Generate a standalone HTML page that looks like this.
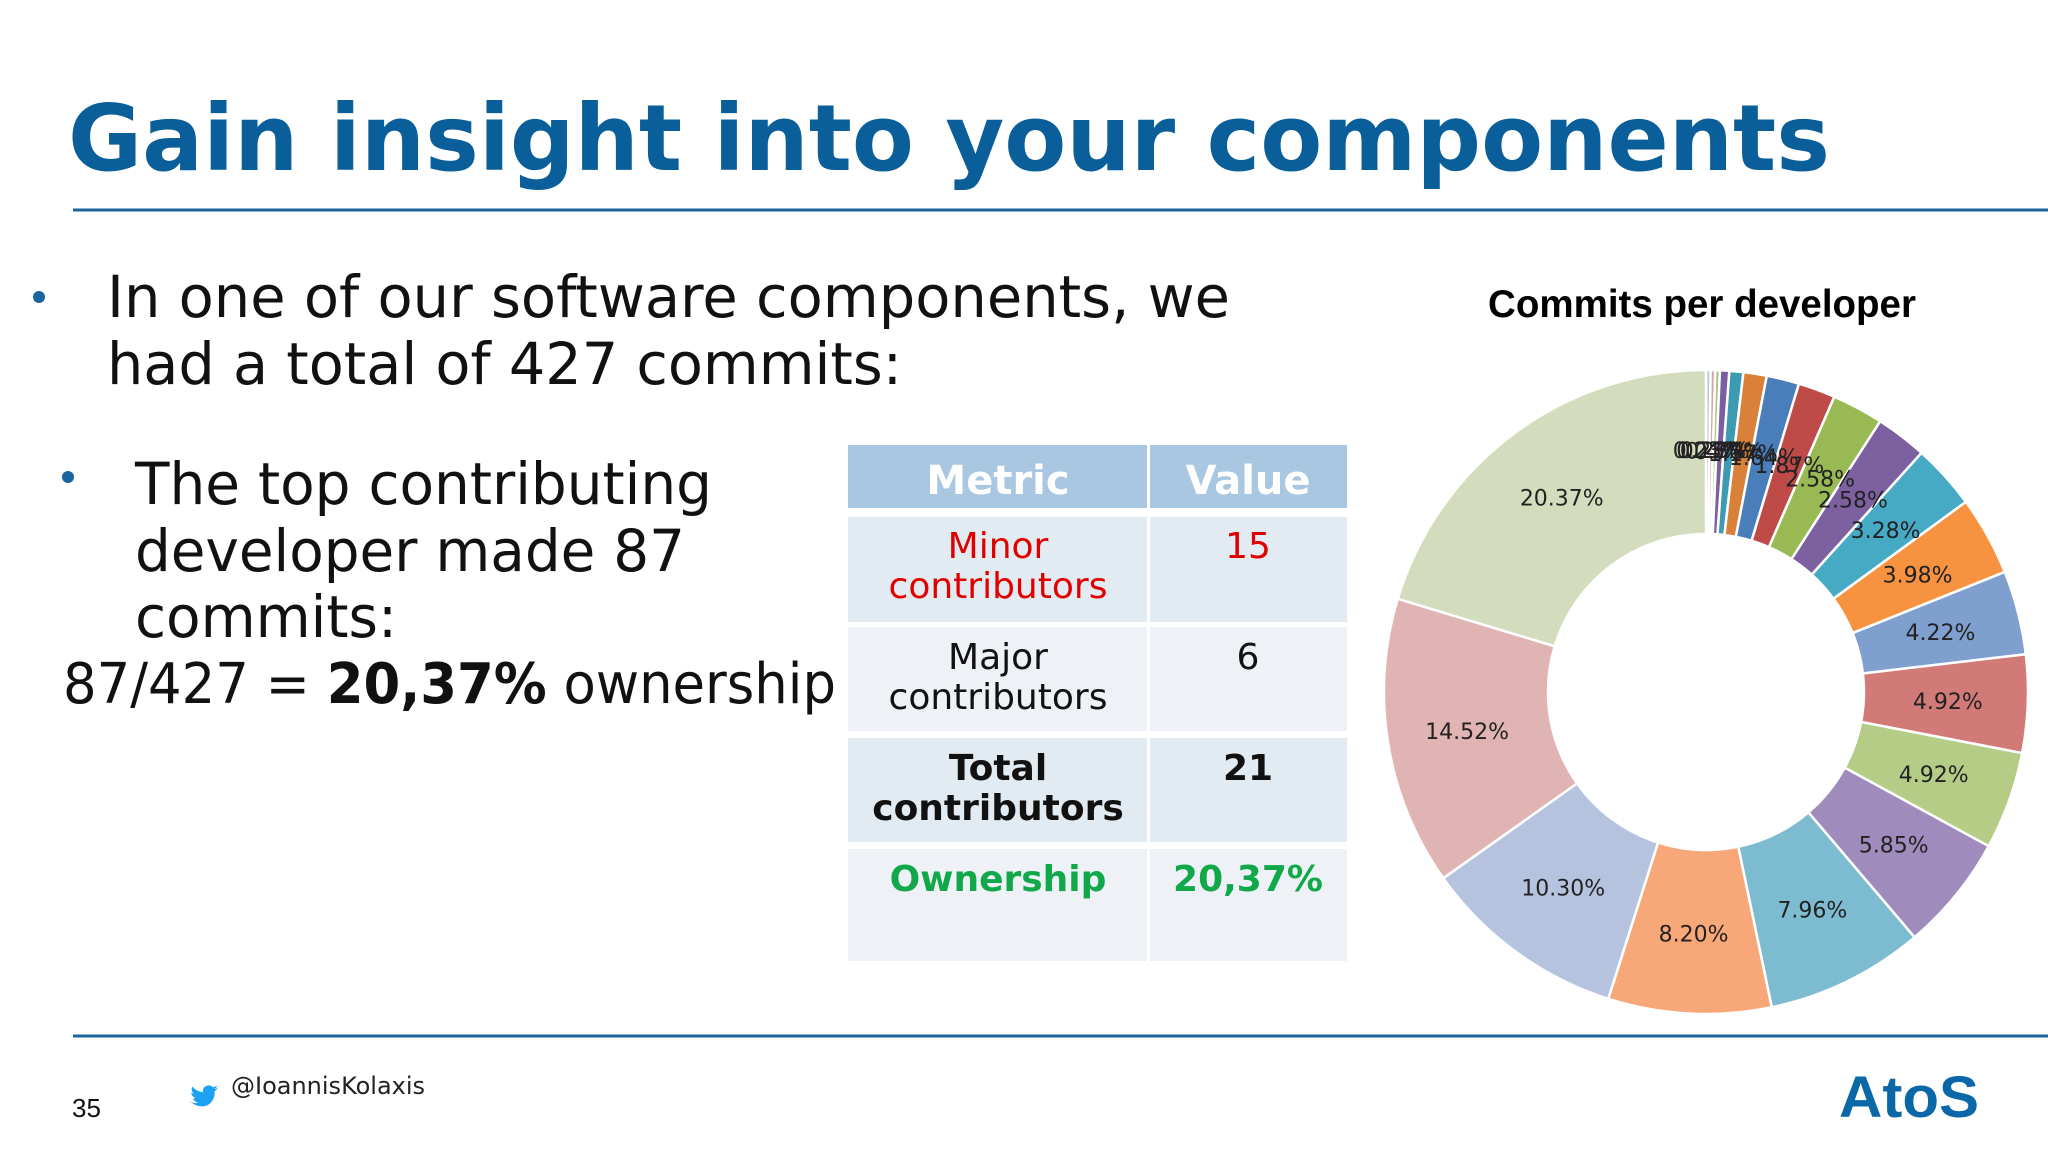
<!DOCTYPE html>
<html><head><meta charset="utf-8"><style>
html,body{margin:0;padding:0;background:#fff;}
svg{display:block;font-family:"DejaVu Sans","Liberation Sans",sans-serif;}
</style></head><body>
<svg id="s" width="2048" height="1152" viewBox="0 0 2048 1152">
<text x="68" y="170" font-size="92" font-weight="bold" fill="#0a5e99" textLength="1762" lengthAdjust="spacingAndGlyphs">Gain insight into your components</text>
<line x1="73" y1="210" x2="2048" y2="210" stroke="#1a64a0" stroke-width="3"/>
<circle cx="39" cy="297" r="6" fill="#1a64a0"/>
<text x="107" y="317" font-size="58" fill="#111" textLength="1123" lengthAdjust="spacingAndGlyphs">In one of our software components, we</text>
<text x="107" y="384" font-size="58" fill="#111" textLength="795" lengthAdjust="spacingAndGlyphs">had a total of 427 commits:</text>
<circle cx="68" cy="477" r="6" fill="#1a64a0"/>
<text x="135" y="504" font-size="58" fill="#111" textLength="577" lengthAdjust="spacingAndGlyphs">The top contributing</text>
<text x="135" y="571" font-size="58" fill="#111" textLength="550" lengthAdjust="spacingAndGlyphs">developer made 87</text>
<text x="135" y="637" font-size="58" fill="#111" textLength="262" lengthAdjust="spacingAndGlyphs">commits:</text>
<text x="63" y="703" font-size="56" fill="#111" textLength="773" lengthAdjust="spacingAndGlyphs">87/427 = <tspan font-weight="bold">20,37%</tspan> ownership</text>

<g font-size="36" text-anchor="middle">
<rect x="848" y="445" width="299" height="63" fill="#a9c7e0"/>
<rect x="1150" y="445" width="197" height="63" fill="#a9c7e0"/>
<text x="998" y="494" fill="#fff" font-weight="bold" font-size="40">Metric</text>
<text x="1248" y="494" fill="#fff" font-weight="bold" font-size="40">Value</text>
<rect x="848" y="517" width="299" height="105" fill="#e2ebf2"/><rect x="1150" y="517" width="197" height="105" fill="#e2ebf2"/>
<rect x="848" y="627" width="299" height="104" fill="#eef2f7"/><rect x="1150" y="627" width="197" height="104" fill="#eef2f7"/>
<rect x="848" y="738" width="299" height="104" fill="#e2ebf2"/><rect x="1150" y="738" width="197" height="104" fill="#e2ebf2"/>
<rect x="848" y="849" width="299" height="112" fill="#eef2f7"/><rect x="1150" y="849" width="197" height="112" fill="#eef2f7"/>
<text x="998" y="558" fill="#e00000">Minor</text>
<text x="998" y="598" fill="#e00000">contributors</text>
<text x="1248" y="558" fill="#e00000">15</text>
<text x="998" y="669" fill="#111">Major</text>
<text x="998" y="709" fill="#111">contributors</text>
<text x="1248" y="669" fill="#111">6</text>
<text x="998" y="780" fill="#111" font-weight="bold">Total</text>
<text x="998" y="820" fill="#111" font-weight="bold">contributors</text>
<text x="1248" y="780" fill="#111" font-weight="bold">21</text>
<text x="998" y="891" fill="#11a84a" font-weight="bold">Ownership</text>
<text x="1248" y="891" fill="#11a84a" font-weight="bold">20,37%</text>
</g>

<text x="1702" y="317" font-size="38.5" font-weight="bold" text-anchor="middle" fill="#000" font-family="Liberation Sans, sans-serif">Commits per developer</text>
<g id="donut"></g>

<line x1="73" y1="1036" x2="2048" y2="1036" stroke="#1a64a0" stroke-width="3"/>
<text x="72" y="1117" font-size="26" fill="#111" font-family="Liberation Sans, sans-serif">35</text>
<path transform="translate(188,1078) scale(0.62)" d="M0 36 q8 6 16 4 q-6-2-8-7 q3 0 4-1 q-6-2-7-8 q2 1 4 1 q-5-5-2-11 q7 8 17 9 q-1-9 8-11 q5-1 8 3 q4-1 7-3 q-1 4-5 6 q3 0 6-2 q-2 4-5 5 q1 14-10 22 q-14 8-33 -7z" fill="#1da1f2"/>
<text x="231" y="1094" font-size="24" fill="#222">@IoannisKolaxis</text>
<text x="1839" y="1117" font-size="58" font-weight="bold" fill="#0a67a8" textLength="140" lengthAdjust="spacingAndGlyphs" font-family="Liberation Sans, sans-serif">AtoS</text>
</svg>
<script>
const developers = ["d1","d2","d3","d4","d5","d6","d7","d8","d9","d10","d11","d12","d13","d14","d15","d16","d17","d18","d19","d20","d21"];
const shares = [0.23,0.23,0.23,0.47,0.70,1.17,1.64,1.87,2.58,2.58,3.28,3.98,4.22,4.92,4.92,5.85,7.96,8.20,10.30,14.52,20.37];
const labels = ["0.23%","0.23%","0.23%","0.47%","0.70%","1.17%","1.64%","1.87%","2.58%","2.58%","3.28%","3.98%","4.22%","4.92%","4.92%","5.85%","7.96%","8.20%","10.30%","14.52%","20.37%"];
const colors = ["#b8c6d8","#d9a3a3","#a9c47f","#7b5fa0","#3d9ab3","#d9813a","#4a7ebb","#be4b48","#98b954","#7d60a0","#46aac5","#f69240","#7f9fcf","#d17a78","#b5cc87","#a08cbc","#7dbcd0","#f8a878","#b5c3df","#e1b4b4","#d3dcbd"];
const cx=1706, cy=692, rOut=322, rIn=158;
const NS="http://www.w3.org/2000/svg";
const g=document.getElementById('donut');
const total=shares.reduce((a,b)=>a+b,0);
function ang(v){return v/total*2*Math.PI;}
function pt(a,r){return [cx+r*Math.sin(a), cy-r*Math.cos(a)];}
let acc=0;
shares.forEach((v,i)=>{
  const a0=ang(acc), a1=ang(acc+v); acc+=v;
  const large=(a1-a0)>Math.PI?1:0;
  const p0=pt(a0,rOut),p1=pt(a1,rOut),p2=pt(a1,rIn),p3=pt(a0,rIn);
  const p=document.createElementNS(NS,'path');
  p.setAttribute('d',`M${p0[0]} ${p0[1]} A${rOut} ${rOut} 0 ${large} 1 ${p1[0]} ${p1[1]} L${p2[0]} ${p2[1]} A${rIn} ${rIn} 0 ${large} 0 ${p3[0]} ${p3[1]}Z`);
  p.setAttribute('fill',colors[i]);
  p.setAttribute('stroke','#fff');
  p.setAttribute('stroke-width','2.5');
  
  
  g.appendChild(p);
});
acc=0;
shares.forEach((v,i)=>{
  const am=ang(acc+v/2); acc+=v;
  const c=pt(am,(rOut+rIn)/2+2);
  const t=document.createElementNS(NS,'text');
  t.setAttribute('x',c[0]); t.setAttribute('y',c[1]+8);
  t.setAttribute('text-anchor','middle');
  t.setAttribute('font-size','22');
  t.setAttribute('fill','#222');
  t.textContent=labels[i];
  
  
  g.appendChild(t);
});
</script>
</body></html>
